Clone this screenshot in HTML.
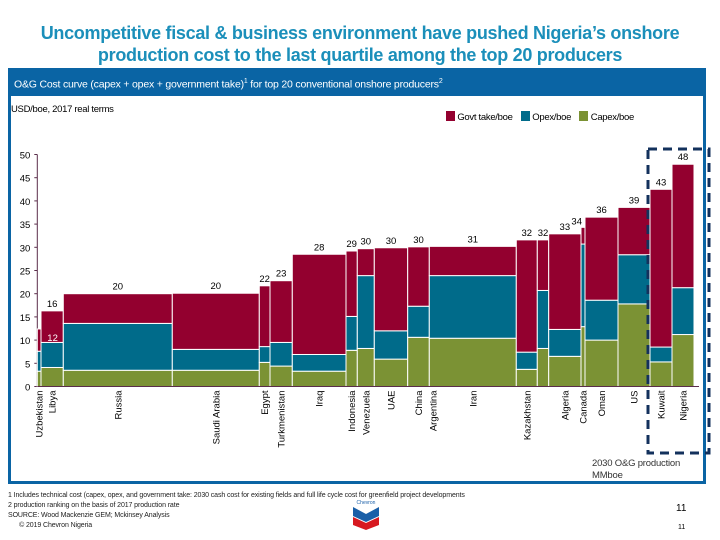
<!DOCTYPE html>
<html><head><meta charset="utf-8">
<style>
body{margin:0;width:720px;height:540px;background:#fff;font-family:"Liberation Sans",sans-serif;position:relative;overflow:hidden}
.abs{position:absolute}
</style></head><body>
<div class="abs" style="left:0;top:22px;width:720px;text-align:center;color:#1b8fba;font-weight:bold;font-size:18px;line-height:22px;letter-spacing:-0.3px">Uncompetitive fiscal &amp; business environment have pushed Nigeria’s onshore<br>production cost to the last quartile among the top 20 producers</div>
<div class="abs" style="left:8px;top:68px;width:692px;height:413px;border:3px solid #0a64a4;border-top:none"></div>
<div class="abs" style="left:8px;top:68px;width:698px;height:28px;background:#0a64a4;color:#fff;font-size:10.5px;line-height:28px;padding-left:6px;box-sizing:border-box;letter-spacing:-0.2px">O&amp;G Cost curve (capex + opex + government take)<sup style="font-size:7px">1</sup> for top 20 conventional onshore producers<sup style="font-size:7px">2</sup></div>
<div class="abs" style="left:11px;top:104px;font-size:9.5px;letter-spacing:-0.3px">USD/boe, 2017 real terms</div>
<div class="abs" style="left:446px;top:111px;font-size:9.5px;line-height:12px;letter-spacing:-0.3px">
<span><span style="display:inline-block;width:9px;height:10px;background:#93002f;vertical-align:-1px"></span> Govt take/boe</span>
<span style="margin-left:6px"><span style="display:inline-block;width:9px;height:10px;background:#006b8a;vertical-align:-1px"></span> Opex/boe</span>
<span style="margin-left:6px"><span style="display:inline-block;width:9px;height:10px;background:#7b9234;vertical-align:-1px"></span> Capex/boe</span></div>
<svg class="abs" style="left:0;top:0" width="720" height="540" id="chart"></svg>
<div class="abs" style="left:592px;top:458px;font-size:9.5px;line-height:12px;color:#333;letter-spacing:-0.2px">2030 O&amp;G production<br>MMboe</div>
<div class="abs" style="left:8px;top:491px;font-size:7px;line-height:10px;color:#222;letter-spacing:-0.1px">1 Includes technical cost (capex, opex, and government take: 2030 cash cost for existing fields and full life cycle cost for greenfield project developments<br>2 production ranking on the basis of 2017 production rate<br>SOURCE: Wood Mackenzie GEM; Mckinsey Analysis<br>&nbsp;&nbsp;&nbsp;&nbsp;&nbsp;&nbsp;© 2019 Chevron Nigeria</div>
<div class="abs" style="left:676px;top:503px;font-size:10px">11</div>
<div class="abs" style="left:678px;top:524px;font-size:7px">11</div>
<svg class="abs" style="left:350px;top:497px" width="32" height="34">
<text x="16" y="7" font-size="5" fill="#1a5fa8" text-anchor="middle" font-family="Liberation Sans">Chevron</text>
<path d="M3 10 L16 17 L29 10 L29 19 L16 25 L3 19Z" fill="#1a5fa8"/>
<path d="M3 20 L16 26 L29 20 L29 28 L16 33 L3 28Z" fill="#d71920"/>
</svg>
<script>
const names=["Uzbekistan","Libya","Russia","Saudi Arabia","Egypt","Turkmenistan","Iraq","Indonesia","Venezuela","UAE","China","Iran","Kazakhstan","","Algeria","Canada","Oman","US","Kuwait","Nigeria"];
const widths=[3.7,22.3,109,87,10.7,22.3,53.7,11.3,17,33.4,21.6,87,21,11.4,32.3,4,33,32,22,22];
const capex=[3.3,4.1,3.5,3.5,5.2,4.4,3.3,7.8,8.2,5.9,10.6,10.4,3.7,8.2,6.5,12.9,10.0,17.8,5.3,11.2];
const opex=[4.3,5.4,10.1,4.5,3.4,5.1,3.6,7.3,15.7,6.1,6.7,13.5,3.7,12.5,5.8,17.8,8.6,10.6,3.2,10.1];
const govt=[4.8,6.8,6.4,12.1,13.1,13.3,21.6,14.1,5.8,17.9,12.8,6.3,24.2,10.9,20.6,3.6,17.9,10.2,34.0,26.6];
const totalLabels=["12","16","20","20","22","23","28","29","30","30","30","31","32","32","33","34","36","39","43","48"];
const yTicks=[0,5,10,15,20,25,30,35,40,45,50];
const svg=document.getElementById('chart');const NS='http://www.w3.org/2000/svg';
const X0=37.3,Y0=386.5,PX=4.64;
const y=v=>Y0-v*PX;
function mk(t,a){const e=document.createElementNS(NS,t);for(const k in a)e.setAttribute(k,a[k]);svg.appendChild(e);return e;}
const ax=mk('line',{x1:X0,y1:y(0),x2:X0,y2:y(50),stroke:'#5a2d4a','stroke-width':1});


yTicks.forEach(t=>{
 const tk=mk('line',{x1:X0-3,x2:X0,y1:y(t),y2:y(t),stroke:'#5a2d4a'});
 
 
 const tx=mk('text',{x:X0-7,y:y(t)+4,'font-size':9.5,'text-anchor':'end','font-family':'Liberation Sans'});tx.textContent=t;
 
 
});
let x=X0;const colors=['#7b9234','#006b8a','#93002f'];
const labelPos=[];
names.forEach((n,i)=>{
 const w=widths[i];const segs=[capex[i],opex[i],govt[i]];let base=0;
 segs.forEach((s,j)=>{
  const r=mk('rect',{x:x,y:y(base+s),width:w,height:s*PX,fill:colors[j],stroke:'#fff','stroke-width':1});
  
  
  base+=s;
 });
 labelPos.push([x,w,base]);
 const cx=x+w/2;
 if(n){
  const t=mk('text',{x:0,y:0,'font-size':9.5,'text-anchor':'end','font-family':'Liberation Sans',transform:`translate(${cx+3.5},${Y0+4}) rotate(-90)`});t.textContent=n;
  
  
 }
 if(n==='China'){
  const t=mk('text',{x:0,y:0,'font-size':9.5,'text-anchor':'end','font-family':'Liberation Sans',transform:`translate(${x+w+7},${Y0+4}) rotate(-90)`});t.textContent='Argentina';
  
  
 }
 x+=w;
});
labelPos.forEach(([bx,w,base],i)=>{
 let t;
 if(i===0){
  t=mk('text',{x:bx+10,y:y(base)+12,'font-size':9.5,fill:'#fff','font-family':'Liberation Sans'});
 } else if(names[i]==='Canada'){
  t=mk('text',{x:bx+1,y:y(base)-3,'font-size':9.5,'text-anchor':'end','font-family':'Liberation Sans'});
 } else {
  t=mk('text',{x:bx+w/2,y:y(base)-4,'font-size':9.5,'text-anchor':'middle','font-family':'Liberation Sans'});
 }
 t.textContent=totalLabels[i];
 
 
});
const base=mk('line',{x1:X0,y1:Y0,x2:x+5,y2:Y0,stroke:'#5a2d4a'});


const hl=mk('rect',{x:648,y:149,width:61,height:304,fill:'none',stroke:'#13315c','stroke-width':3,'stroke-dasharray':'9,6'});


</script>
</body></html>
